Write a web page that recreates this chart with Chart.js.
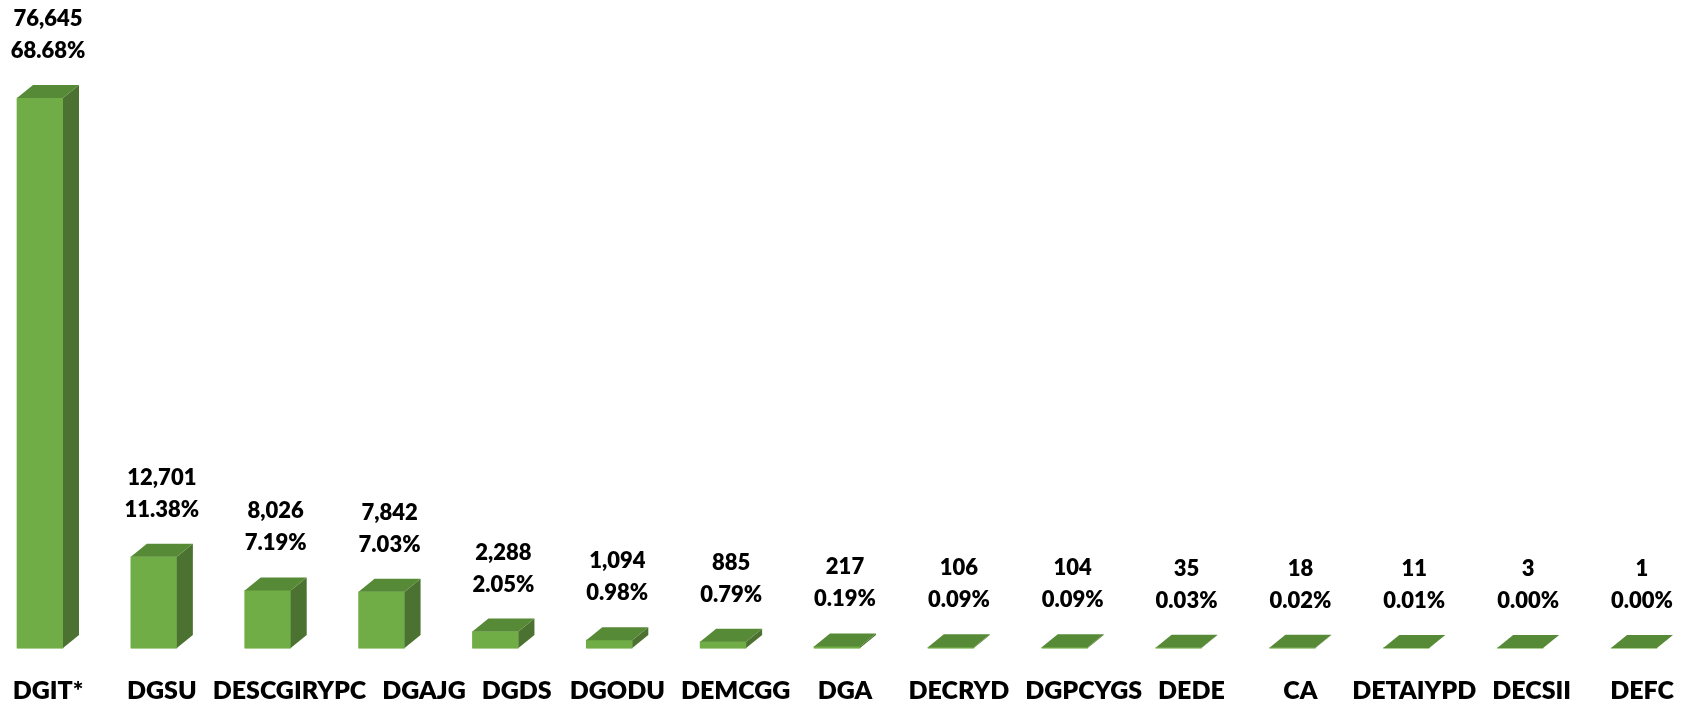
<!DOCTYPE html>
<html>
<head>
<meta charset="utf-8">
<script src="https://cdn.jsdelivr.net/npm/chart.js@4/dist/chart.umd.min.js"></script>
<style>
  html, body { margin: 0; padding: 0; background: #ffffff; }
  #wrap { width: 1694px; height: 707px; position: relative; }
</style>
</head>
<body>
<div id="wrap"><canvas id="c" width="1694" height="707"></canvas></div>
<script>
const categories = ['DGIT*', 'DGSU', 'DESCGIRYPC', 'DGAJG', 'DGDS', 'DGODU', 'DEMCGG', 'DGA', 'DECRYD', 'DGPCYGS', 'DEDE', 'CA', 'DETAIYPD', 'DECSII', 'DEFC'];
const counts = [76645, 12701, 8026, 7842, 2288, 1094, 885, 217, 106, 104, 35, 18, 11, 3, 1];
const percentLabels = ['68.68%', '11.38%', '7.19%', '7.03%', '2.05%', '0.98%', '0.79%', '0.19%', '0.09%', '0.09%', '0.03%', '0.02%', '0.01%', '0.00%', '0.00%'];
const yMax = 80000;

const FRONT = '#70AD47';
const SIDE = '#4B7230';
const TOP = '#578A36';
const DX = 16, DY = 13;
const FONT_FAMILY = 'Lato';
const FONT_WEIGHT = '800';

const bar3d = {
  id: 'bar3d',
  afterDatasetsDraw(chart) {
    const ctx = chart.ctx;
    const meta = chart.getDatasetMeta(0);
    ctx.save();
    meta.data.forEach((bar, i) => {
      const p = bar.getProps(['x', 'y', 'base', 'width'], true);
      const l = p.x - p.width / 2, r = p.x + p.width / 2;
      const top = Math.min(p.y, p.base), base = Math.max(p.y, p.base);
      ctx.fillStyle = SIDE;
      ctx.beginPath();
      ctx.moveTo(r, top); ctx.lineTo(r + DX, top - DY);
      ctx.lineTo(r + DX, base - DY); ctx.lineTo(r, base);
      ctx.closePath(); ctx.fill();
      ctx.fillStyle = TOP;
      ctx.beginPath();
      ctx.moveTo(l, top); ctx.lineTo(l + DX, top - DY);
      ctx.lineTo(r + DX, top - DY); ctx.lineTo(r, top);
      ctx.closePath(); ctx.fill();
      ctx.strokeStyle = '#A9D18E';
      ctx.lineWidth = 1;
      ctx.beginPath(); ctx.moveTo(l, base + 0.5); ctx.lineTo(r, base + 0.5); ctx.stroke();
      ctx.fillStyle = '#000000';
      ctx.font = FONT_WEIGHT + ' 22px ' + FONT_FAMILY;
      ctx.textAlign = 'center';
      ctx.textBaseline = 'alphabetic';
      const cx = p.x + DX / 2;
      ctx.fillText(counts[i].toLocaleString('en-US'), cx, top - 72);
      ctx.fillText(percentLabels[i], cx, top - 40);
    });

    // category labels under the bars, pushed right when they would overlap
    const xs = chart.scales.x;
    const baseY = xs.top + 51;
    ctx.font = FONT_WEIGHT + ' 25px ' + FONT_FAMILY;
    ctx.textAlign = 'left';
    ctx.textBaseline = 'alphabetic';
    let prevRight = -Infinity;
    categories.forEach((name, i) => {
      const w = ctx.measureText(name).width;
      const cx = xs.getPixelForValue(i) + DX / 2;
      let left = cx - w / 2;
      if (left < prevRight + 16) left = prevRight + 16;
      ctx.fillText(name, left, baseY);
      prevRight = left + w;
    });
    ctx.restore();
  }
};

new Chart(document.getElementById('c'), {
  type: 'bar',
  data: {
    labels: categories,
    datasets: [{
      data: counts,
      backgroundColor: FRONT,
      borderWidth: 0,
      barThickness: 46,
      clip: false
    }]
  },
  options: {
    responsive: false,
    animation: false,
    events: [],
    layout: { padding: { left: 40, right: 60, top: 74, bottom: 0 } },
    plugins: { legend: { display: false }, tooltip: { enabled: false } },
    scales: {
      x: {
        type: 'category',
        offset: false,
        grid: { display: false, drawTicks: false },
        border: { display: false },
        ticks: { display: false },
        afterFit(scale) { scale.height = 59; scale.paddingLeft = 0; scale.paddingRight = 0; }
      },
      y: {
        display: false,
        min: 0,
        max: yMax
      }
    }
  },
  plugins: [bar3d]
});
</script>
</body>
</html>
